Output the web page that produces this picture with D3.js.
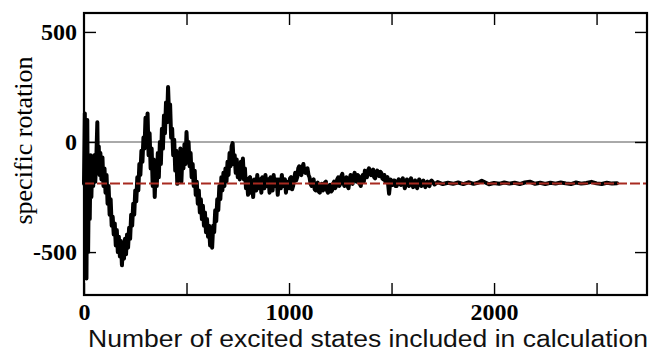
<!DOCTYPE html>
<html>
<head>
<meta charset="utf-8">
<script src="https://cdn.jsdelivr.net/npm/d3@7"></script>
<style>
  html, body { margin: 0; padding: 0; background: #fff; }
  svg { display: block; }
</style>
</head>
<body>
<svg id="chart" width="652" height="353"></svg>
<script>
// number of excited states vs computed specific rotation
const states = [
  0, 4, 8, 12, 16, 20, 24, 28, 32, 36, 40, 45, 50, 55, 60, 65, 68, 72, 76, 80,
  85, 90, 95, 100, 105, 110, 115, 120, 125, 130, 135, 140, 145, 150, 155, 160, 165, 170, 175, 180,
  185, 190, 195, 200, 205, 210, 215, 220, 225, 230, 235, 240, 245, 250, 255, 260, 265, 270, 275, 280,
  285, 290, 295, 300, 305, 310, 315, 320, 325, 330, 335, 340, 345, 350, 355, 360, 365, 370, 375, 380,
  385, 390, 395, 400, 405, 410, 415, 420, 425, 430, 435, 440, 445, 450, 455, 460, 465, 470, 475, 480,
  485, 490, 495, 500, 505, 510, 515, 520, 525, 530, 535, 540, 545, 550, 555, 560, 565, 570, 575, 580,
  585, 590, 595, 600, 605, 610, 615, 620, 625, 630, 635, 640, 645, 650, 655, 660, 665, 670, 675, 680,
  685, 690, 695, 700, 705, 710, 715, 720, 725, 730, 735, 740, 745, 750, 755, 760, 765, 770, 775, 780,
  785, 790, 795, 800, 805, 810, 815, 820, 825, 830, 835, 840, 845, 850, 855, 860, 865, 870, 875, 880,
  885, 890, 895, 900, 905, 910, 915, 920, 925, 930, 935, 940, 945, 950, 955, 960, 965, 970, 975, 980,
  985, 990, 995, 1000, 1005, 1010, 1015, 1020, 1025, 1030, 1035, 1040, 1045, 1050, 1055, 1060, 1065, 1070, 1075, 1080,
  1085, 1090, 1095, 1100, 1105, 1110, 1115, 1120, 1125, 1130, 1135, 1140, 1145, 1150, 1155, 1160, 1165, 1170, 1175, 1180,
  1185, 1190, 1195, 1200, 1205, 1210, 1215, 1220, 1225, 1230, 1235, 1240, 1245, 1250, 1255, 1260, 1265, 1270, 1275, 1280,
  1285, 1290, 1295, 1300, 1305, 1310, 1315, 1320, 1325, 1330, 1335, 1340, 1345, 1350, 1355, 1360, 1365, 1370, 1375, 1380,
  1385, 1390, 1395, 1400, 1405, 1410, 1415, 1420, 1425, 1430, 1435, 1440, 1445, 1450, 1455, 1460, 1465, 1470, 1475, 1480,
  1488, 1495, 1500, 1505, 1510, 1515, 1520, 1525, 1530, 1535, 1540, 1545, 1550, 1555, 1560, 1565, 1570, 1575, 1580, 1585,
  1590, 1595, 1600, 1605, 1610, 1615, 1620, 1625, 1630, 1635, 1640, 1645, 1650, 1655, 1660, 1665, 1670, 1675, 1680, 1685,
  1690, 1695, 1710, 1725, 1750, 1775, 1800, 1825, 1850, 1875, 1900, 1925, 1940, 1955, 1975, 2000, 2025, 2050, 2075, 2100,
  2125, 2150, 2175, 2200, 2225, 2250, 2275, 2300, 2325, 2350, 2375, 2400, 2425, 2450, 2475, 2500, 2525, 2550, 2575, 2600
];
const rotation = [
  -190, 130, -400, -620, 100, -500, -150, -350, -60, -250, -100, -200, -60, -180, -80, 90, -120, -20, -150, -50,
  -170, -70, -200, -120, -230, -150, -280, -200, -330, -260, -380, -340, -420, -370, -470, -400, -500, -430, -520, -450,
  -560, -470, -530, -440, -510, -420, -480, -390, -440, -330, -380, -280, -330, -220, -270, -160, -220, -100, -150, -40,
  -90, 20, -30, 110, 0, 130, -60, 40, -120, -30, -200, -80, -250, -120, -200, -50, -160, 0, -100, 60,
  -30, 120, 40, 180, 90, 250, 120, 170, 20, 60, -60, 10, -130, -40, -190, -80, -150, -30, -180, -60,
  -120, -10, -100, 45, -60, 0, -110, -50, -160, -100, -200, -130, -240, -180, -280, -220, -320, -260, -350, -290,
  -380, -320, -410, -350, -430, -380, -470, -400, -480, -380, -410, -310, -360, -260, -310, -200, -260, -160, -220, -140,
  -200, -120, -180, -90, -150, -50, -110, -20, -5, -100, -60, -140, -80, -160, -100, -170, -90, -150, -75, -170,
  -120, -210, -170, -240, -165, -160, -230, -180, -250, -170, -200, -220, -150, -210, -180, -170, -230, -160, -200, -210,
  -150, -200, -180, -170, -230, -160, -200, -220, -150, -200, -190, -170, -240, -170, -190, -210, -150, -200, -180, -170,
  -230, -180, -195, -210, -165, -160, -215, -200, -170, -140, -175, -160, -120, -110, -145, -150, -115, -100, -135, -140,
  -130, -120, -150, -160, -190, -200, -175, -170, -215, -220, -190, -185, -225, -230, -200, -190, -220, -215, -185, -180,
  -220, -230, -200, -195, -225, -220, -190, -180, -210, -200, -170, -160, -200, -190, -155, -145, -185, -200, -170, -160,
  -200, -210, -175, -150, -185, -190, -155, -140, -170, -180, -150, -155, -190, -200, -165, -150, -180, -130, -150, -160,
  -130, -120, -145, -150, -130, -125, -160, -165, -140, -130, -150, -155, -135, -140, -165, -170, -150, -180, -165, -160,
  -235, -170, -185, -195, -175, -175, -200, -200, -180, -170, -190, -195, -175, -165, -190, -210, -185, -170, -190, -200,
  -175, -165, -185, -205, -190, -175, -195, -210, -185, -170, -185, -200, -180, -175, -190, -205, -185, -180, -195, -200,
  -180, -175, -193, -182, -191, -185, -190, -184, -191, -183, -190, -184, -176, -183, -192, -186, -190, -184, -189, -185,
  -191, -184, -180, -190, -185, -191, -185, -189, -184, -188, -191, -184, -189, -186, -181, -188, -191, -185, -189, -187
];
const convergedValue = -188;
const xTicks = [0, 500, 1000, 1500, 2000, 2500];
const yTicks = [-500, 0, 500];

const width = 652, height = 353;
const plot = { left: 84, right: 647, top: 13, bottom: 295 };

const svg = d3.select("#chart");
svg.append("rect").attr("width", width).attr("height", height).attr("fill", "#fff");

const x = d3.scaleLinear().domain([0, 2746]).range([plot.left, plot.right]);
const y = d3.scaleLinear().domain([-695, 586]).range([plot.bottom, plot.top]);

const series = states.map((s, i) => ({ s, r: rotation[i] }));

// zero line
svg.append("line")
  .attr("x1", plot.left).attr("x2", plot.right)
  .attr("y1", y(0)).attr("y2", y(0))
  .attr("stroke", "#555").attr("stroke-width", 1);

// data trace
svg.append("path")
  .datum(series)
  .attr("fill", "none")
  .attr("stroke", "#000")
  .attr("stroke-width", 4)
  .attr("stroke-linejoin", "round")
  .attr("stroke-linecap", "round")
  .attr("d", d3.line().x((d) => x(d.s)).y((d) => y(d.r)));

// converged value
svg.append("line")
  .attr("x1", plot.left).attr("x2", plot.right)
  .attr("y1", y(convergedValue)).attr("y2", y(convergedValue))
  .attr("stroke", "#a82a20").attr("stroke-width", 2)
  .attr("stroke-dasharray", "10,3");

const labelFont = "'Liberation Serif', 'DejaVu Serif', serif";

function styleAxis(g, withText) {
  g.select(".domain").remove();
  g.selectAll(".tick line").attr("stroke", "#000").attr("stroke-width", 1.4);
  g.selectAll(".tick text")
    .attr("fill", "#000")
    .style("font-family", labelFont)
    .style("font-weight", "bold")
    .style("font-size", "24px");
  if (!withText) g.selectAll(".tick text").remove();
}

const gBottom = svg.append("g").attr("transform", `translate(0,${plot.bottom})`)
  .call(d3.axisBottom(x).tickValues(xTicks).tickSize(-12).tickPadding(8)
    .tickFormat((d) => (d % 1000 === 0 ? String(d) : "")));
styleAxis(gBottom, true);

const gTop = svg.append("g").attr("transform", `translate(0,${plot.top})`)
  .call(d3.axisTop(x).tickValues(xTicks.slice(1)).tickSize(-12));
styleAxis(gTop, false);

const gLeft = svg.append("g").attr("transform", `translate(${plot.left},0)`)
  .call(d3.axisLeft(y).tickValues(yTicks).tickSize(-12).tickPadding(7)
    .tickFormat((d) => String(d)));
styleAxis(gLeft, true);

const gRight = svg.append("g").attr("transform", `translate(${plot.right},0)`)
  .call(d3.axisRight(y).tickValues(yTicks).tickSize(-12));
styleAxis(gRight, false);

// frame
svg.append("rect")
  .attr("x", plot.left).attr("y", plot.top)
  .attr("width", plot.right - plot.left).attr("height", plot.bottom - plot.top)
  .attr("fill", "none").attr("stroke", "#000").attr("stroke-width", 2.2);

svg.append("text")
  .attr("transform", `translate(32,${(58 + 223) / 2}) rotate(-90)`)
  .attr("text-anchor", "middle")
  .attr("textLength", 168)
  .attr("lengthAdjust", "spacingAndGlyphs")
  .style("font-family", labelFont)
  .style("font-size", "25px")
  .attr("fill", "#000")
  .text("specific rotation");

svg.append("text")
  .attr("x", 368).attr("y", 347)
  .attr("text-anchor", "middle")
  .attr("textLength", 560)
  .attr("lengthAdjust", "spacingAndGlyphs")
  .style("font-family", "'Liberation Sans', Arial, sans-serif")
  .style("font-size", "23px")
  .attr("fill", "#111")
  .text("Number of excited states included in calculation");
</script>
</body>
</html>
